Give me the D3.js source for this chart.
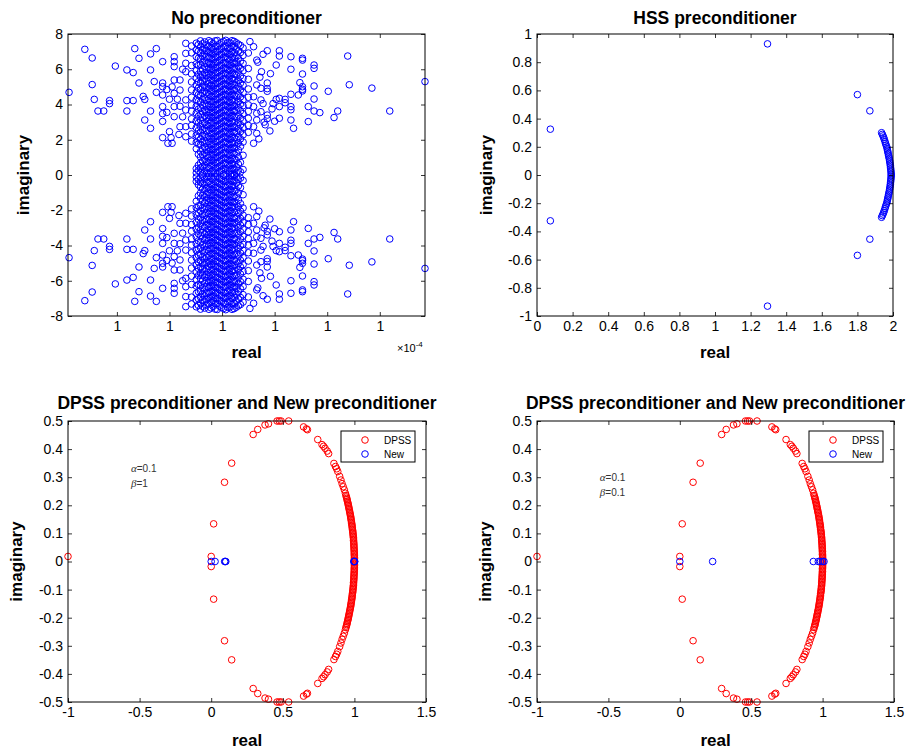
<!DOCTYPE html>
<meta charset="utf-8">
<head>
    <title>Eigenvalue distributions</title>
    <script type="text/javascript" src="https://cdn.jsdelivr.net/npm/d3@7"></script>
    <style type="text/css">
        body { margin: 0; background: #fff; }
        svg text { font-family: "Liberation Sans", Arial, Helvetica, sans-serif; }
    </style>
</head>
<body>
<div id="chart"></div>
<script>
    // ---------------- data (upper half only where spectrum is conjugate-symmetric) ----------------
    // No preconditioner: real part shown as tick offsets (every tick reads "1", x10^-4)
    var noPrecXTicks = [-2, -1, 0, 1, 2, 3];
    var noPrecXLabels = ["1", "1", "1", "1", "1", "1"];
    var noPrecYTicks = [-8, -6, -4, -2, 0, 2, 4, 6, 8];

    var noPrecOuter = [
        [-2.91,4.69],[-2.61,7.13],[-2.47,6.64],[-2.47,5.13],[-2.43,4.29],[-2.36,3.63],[-2.25,3.63],
        [-2.14,4.22],[-2.14,4.05],[-2.03,6.18],[-1.81,5.96],[-1.81,4.22],[-1.81,3.63],[-1.69,5.81],
        [-1.69,4.22],[-1.66,7.17],[-1.58,6.62],[-1.58,5.22],[-1.50,4.46],[-1.47,4.29],[-1.47,3.12],
        [-1.36,6.87],[-1.36,5.96],[-1.36,3.63],[-1.36,2.65],[-1.29,5.30],[-1.25,7.17],[-1.25,4.69],
        [-1.13,6.43],[-1.13,5.22],[-1.13,5.01],[-1.13,4.54],[-1.13,3.88],[-1.13,3.48],[-1.13,3.04],
        [-1.13,2.12],[-1.03,1.80],[-0.95,1.80],[-0.97,2.12],[-1.00,2.46],[-0.91,6.71],[-0.91,6.43],
        [-0.91,6.15],[-0.91,5.39],[-0.91,4.63],[-0.91,3.88],[-0.91,3.31],[-0.80,4.82],[-0.80,2.74],
        [-0.80,5.39],[-0.69,7.47],[-0.69,6.90],[-0.69,6.34],[-0.69,5.86],[-0.69,2.17],[-0.69,2.74],
        [-0.69,4.26],[-0.69,3.69],[-1.05,4.85],[-1.00,4.30],[-0.85,4.30],[-0.75,3.30],[-0.75,6.00],
        [-0.95,5.00],[-0.82,2.30],[-0.80,3.90],[-1.05,3.55],
        [3.86,5.30],[3.19,3.63],[2.85,4.93],[2.42,5.12],[2.39,6.75],[2.20,3.63],[2.13,3.26],[2.02,4.75],
        [1.86,3.54],[1.75,6.24],[1.75,6.05],[1.75,5.05],[1.75,4.31],[1.75,3.63],[1.64,3.88],[1.64,3.03],
        [1.53,6.62],[1.53,6.52],[1.53,5.73],[1.53,5.01],[1.53,4.86],[1.53,4.77],[1.48,5.24],[1.45,4.54],
        [1.36,2.65],[1.31,6.71],[1.31,6.00],[1.31,4.58],[1.31,3.88],[1.31,3.70],[1.31,3.12],[1.20,4.29],
        [1.20,4.10],[1.09,7.05],[1.09,6.75],[1.09,4.35],[1.09,3.88],[1.09,3.22],[1.03,6.24],[1.03,4.29],
        [0.91,2.50],[0.86,7.05],[0.86,5.22],[0.86,4.90],[0.86,4.75],[0.86,3.40],[0.86,3.20],[0.75,5.86],
        [0.74,4.26],[0.74,3.59],[0.74,4.92],[0.66,6.52],[0.66,5.11],[0.66,3.50],[0.66,3.12],[0.66,2.36],
        [0.60,7.28],[0.60,4.44],[0.60,3.88],[0.60,2.74],[0.60,1.80],[0.53,7.57],[0.68,6.40],[0.72,5.55],
        [0.78,4.05],[0.80,3.00],[0.95,3.75],[0.97,4.05],[0.92,5.75],[0.78,6.85],[0.70,2.05],[1.00,3.05],
        [0.82,2.85]
    ];

    // dense core, column by column
    var noPrecCoreU = [-0.58, -0.49, -0.41, -0.33, -0.25, -0.17, -0.09, -0.01, 0.07, 0.15, 0.23, 0.31, 0.40, 0.50,
                       -0.45, -0.37, -0.29, -0.21, -0.13, -0.05, 0.03, 0.11, 0.19, 0.27, 0.35];
    var noPrecCoreV = [
        [7.32,6.93,6.21,5.74,5.28,4.83,4.41,3.98,3.62,3.19,2.81,2.33,1.92],
        [7.48,7.09,6.71,6.30,5.92,5.49,5.12,4.70,4.28,3.91,3.52,3.08,2.69,2.27,1.86,1.49,0.36,0.12],
        [7.61,7.26,6.93,6.58,6.27,5.88,5.56,5.21,4.84,4.52,4.13,3.81,3.44,3.12,2.74,2.41,2.03,1.72,1.33,1.02,0.69,0.41,0.15],
        [7.55,7.18,6.87,6.49,6.16,5.79,5.47,5.08,4.76,4.39,4.06,3.68,3.36,2.98,2.66,2.29,1.96,1.58,1.27,0.88,0.56,0.24],
        [7.62,7.31,6.98,6.69,6.38,6.11,5.79,5.52,5.18,4.91,4.58,4.31,3.98,3.71,3.38,3.11,2.79,2.52,2.18,1.91,1.58,1.31,0.98,0.71,0.38,0.09],
        [7.46,7.13,6.86,6.54,6.24,5.96,5.63,5.36,5.04,4.76,4.44,4.16,3.84,3.56,3.24,2.96,2.64,2.36,2.04,1.76,1.44,1.16,0.84,0.56,0.24],
        [7.63,7.29,7.01,6.68,6.41,6.08,5.81,5.49,5.21,4.88,4.61,4.28,4.01,3.68,3.41,3.08,2.81,2.48,2.21,1.88,1.61,1.28,1.01,0.68,0.41,0.08],
        [7.52,7.17,6.84,6.56,6.22,5.94,5.66,5.33,5.06,4.73,4.46,4.13,3.86,3.53,3.26,2.93,2.66,2.33,2.06,1.73,1.46,1.13,0.86,0.53,0.26],
        [7.64,7.33,6.99,6.71,6.37,6.09,5.77,5.48,5.17,4.89,4.57,4.29,3.97,3.69,3.37,3.09,2.77,2.49,2.17,1.89,1.57,1.29,0.97,0.69,0.37,0.11],
        [7.49,7.16,6.83,6.52,6.23,5.92,5.61,5.32,5.02,4.72,4.42,4.12,3.82,3.52,3.22,2.92,2.62,2.32,2.02,1.72,1.42,1.12,0.82,0.52,0.22],
        [7.58,7.27,6.94,6.63,6.31,6.02,5.71,5.41,5.11,4.81,4.51,4.21,3.91,3.61,3.31,3.01,2.71,2.41,2.11,1.81,1.51,1.21,0.91,0.61,0.31,0.04],
        [7.42,7.03,6.62,6.19,5.83,5.39,5.02,4.61,4.18,3.82,3.41,2.99,2.62,2.19,1.81,1.42,1.01,0.62,0.24],
        [7.21,6.79,6.33,5.91,5.48,5.09,4.68,4.27,3.93,3.48,3.07,2.69,2.28,1.87,1.12,0.31],
        [6.92,6.04,5.43,4.88,4.41,3.98,3.61,3.22,2.81,2.42],
        [7.40,7.02,6.62,6.22,5.71,5.30,4.93,4.55,4.18,3.74,3.33,2.95,2.52,2.14,1.75,1.18,0.55,0.26],
        [7.45,7.09,6.74,6.40,6.02,5.68,5.33,4.99,4.64,4.29,3.95,3.60,3.27,2.91,2.57,2.21,1.86,1.49,1.15,0.80,0.47,0.05],
        [7.38,7.06,6.73,6.33,6.00,5.65,5.33,4.97,4.66,4.24,3.92,3.56,3.24,2.84,2.52,2.13,1.81,1.43,1.11,0.74,0.43,0.12],
        [7.54,7.22,6.91,6.61,6.30,6.00,5.69,5.38,5.09,4.77,4.47,4.17,3.86,3.56,3.26,2.95,2.65,2.35,2.05,1.74,1.44,1.14,0.84,0.54,0.18],
        [7.61,7.30,6.99,6.70,6.40,6.09,5.80,5.50,5.19,4.90,4.60,4.29,3.99,3.70,3.39,3.10,2.79,2.49,2.19,1.90,1.59,1.29,0.99,0.70,0.39,0.12],
        [7.44,7.12,6.82,6.51,6.20,5.90,5.60,5.30,5.00,4.70,4.40,4.10,3.80,3.50,3.20,2.90,2.60,2.30,2.00,1.70,1.40,1.10,0.80,0.50,0.20],
        [7.57,7.26,6.97,6.66,6.35,6.06,5.75,5.45,5.15,4.85,4.54,4.25,3.94,3.65,3.34,3.04,2.74,2.45,2.14,1.84,1.55,1.24,0.94,0.65,0.34,0.05],
        [7.51,7.20,6.90,6.59,6.28,5.98,5.68,5.38,5.08,4.78,4.48,4.18,3.88,3.58,3.28,2.98,2.68,2.38,2.08,1.78,1.48,1.18,0.88,0.58,0.28],
        [7.62,7.32,7.00,6.69,6.40,6.08,5.78,5.47,5.17,4.87,4.57,4.27,3.97,3.67,3.37,3.06,2.76,2.46,2.16,1.86,1.56,1.26,0.96,0.66,0.36,0.07],
        [7.50,7.15,6.80,6.42,6.05,5.66,5.24,4.88,4.44,4.03,3.66,3.24,2.83,2.44,2.02,1.63,1.24,0.83,0.45,0.12],
        [7.35,6.95,6.45,6.05,5.62,5.21,4.84,4.43,4.02,3.63,3.22,2.85,2.46,2.05,1.62,0.72,0.18]
    ];

    // HSS preconditioner
    var hssXTicks = [0, 0.2, 0.4, 0.6, 0.8, 1, 1.2, 1.4, 1.6, 1.8, 2];
    var hssYTicks = [-1, -0.8, -0.6, -0.4, -0.2, 0, 0.2, 0.4, 0.6, 0.8, 1];
    var hssPoints = [
        [0.075,0.325],[1.295,0.930],[1.800,0.570],[1.870,0.455],
        [1.936,0.300],[1.940,0.288],[1.944,0.277],[1.948,0.265],[1.951,0.252],[1.955,0.238],
        [1.958,0.225],[1.961,0.212],[1.965,0.200],[1.967,0.188],[1.969,0.176],[1.971,0.164],
        [1.973,0.152],[1.975,0.140],[1.977,0.128],[1.979,0.116],[1.981,0.104],[1.982,0.092],
        [1.984,0.080],[1.985,0.068],[1.986,0.056],[1.987,0.044],[1.988,0.032],[1.989,0.020],
        [1.990,0.008],[1.990,0]
    ];

    // DPSS preconditioner (same spectrum in both lower panels)
    var dpssXTicks = [-1, -0.5, 0, 0.5, 1, 1.5];
    var dpssYTicks = [-0.5, -0.4, -0.3, -0.2, -0.1, 0, 0.1, 0.2, 0.3, 0.4, 0.5];
    var dpssSingle = [[-1, 0.018]];
    var dpssPoints = [
        [0.000,0.018],[0.017,0.134],[0.093,0.282],[0.143,0.350],[0.293,0.452],[0.325,0.470],
        [0.376,0.486],[0.400,0.490],[0.460,0.500],[0.475,0.500],[0.488,0.500],[0.541,0.500],
        [0.645,0.479],[0.665,0.472],[0.672,0.469],[0.744,0.434],[0.774,0.416],[0.785,0.410],
        [0.795,0.403],[0.810,0.393],[0.820,0.384],[0.857,0.349],[0.868,0.338],[0.876,0.330],
        [0.884,0.320],[0.897,0.303],[0.906,0.290],[0.914,0.277],[0.922,0.266],[0.930,0.255],
        [0.937,0.243],[0.941,0.235],[0.944,0.230],[0.947,0.225],[0.949,0.220],[0.951,0.215],
        [0.954,0.210],[0.956,0.205],[0.958,0.200],[0.960,0.195],[0.962,0.190],[0.964,0.185],
        [0.966,0.180],[0.968,0.175],[0.970,0.170],[0.972,0.165],[0.974,0.160],[0.975,0.155],
        [0.977,0.150],[0.978,0.145],[0.980,0.140],[0.981,0.135],[0.983,0.130],[0.984,0.125],
        [0.985,0.120],[0.986,0.115],[0.988,0.110],[0.989,0.105],[0.990,0.100],[0.991,0.095],
        [0.992,0.090],[0.993,0.085],[0.994,0.080],[0.994,0.075],[0.995,0.070],[0.996,0.065],
        [0.996,0.060],[0.997,0.055],[0.997,0.050],[0.998,0.045],[0.998,0.040],[0.999,0.035],
        [0.999,0.030],[0.999,0.025],[1.000,0.020],[1.000,0.015],[1.000,0.010],[1.000,0.005],[1.000,0]
    ];
    var newPointsA = [[0.000,0],[0.027,0],[0.094,0],[0.098,0],[0.102,0],[0.996,0],[0.998,0],[1.000,0],[1.002,0]];
    var newPointsB = [[0.000,0],[0.230,0],[0.935,0],[0.970,0],[0.985,0],[1.000,0],[1.010,0]];

    // ---------------- helpers ----------------
    function conj(pts) {
        return pts.concat(pts.filter(function(d){ return d[1] !== 0; })
                             .map(function(d){ return [d[0], -d[1]]; }));
    }
    function numFmt(d) { return String(Math.round(d * 10) / 10); }

    var noPrecPoints = noPrecOuter.slice();
    noPrecCoreU.forEach(function(u, i){
        noPrecCoreV[i].forEach(function(v){ noPrecPoints.push([u, v]); });
    });

    var width = 911, height = 749;
    var svg = d3.select("#chart").append("svg")
        .attr("width", width)
        .attr("height", height);

    function drawPanel(p) {
        var g = svg.append("g");
        var x = d3.scaleLinear().domain(p.xDomain).range([p.left, p.right]);
        var y = d3.scaleLinear().domain(p.yDomain).range([p.bottom, p.top]);

        p.series.forEach(function(s){
            g.append("g").selectAll("circle")
                .data(s.points)
                .enter()
                .append("circle")
                .attr("cx", function(d){ return x(d[0]); })
                .attr("cy", function(d){ return y(d[1]); })
                .attr("r", 3.3)
                .attr("fill", "none")
                .attr("stroke", s.color)
                .attr("stroke-width", 1);
        });

        // ticks on all four sides, pointing inward
        var bottom = d3.axisBottom(x).tickValues(p.xTicks).tickSize(-4).tickSizeOuter(0).tickPadding(5)
            .tickFormat(function(d, i){ return p.xLabels ? p.xLabels[i] : numFmt(d); });
        var left = d3.axisLeft(y).tickValues(p.yTicks).tickSize(-4).tickSizeOuter(0).tickPadding(5)
            .tickFormat(numFmt);
        var top = d3.axisTop(x).tickValues(p.xTicks).tickSize(-4).tickSizeOuter(0).tickFormat("");
        var right = d3.axisRight(y).tickValues(p.yTicks).tickSize(-4).tickSizeOuter(0).tickFormat("");

        [[bottom, "translate(0," + p.bottom + ")"], [left, "translate(" + p.left + ",0)"],
         [top, "translate(0," + p.top + ")"], [right, "translate(" + p.right + ",0)"]].forEach(function(a){
            var ax = g.append("g").attr("transform", a[1]).call(a[0]);
            ax.select(".domain").remove();
            ax.selectAll("line").attr("stroke", "#000").attr("stroke-width", 0.8);
            ax.selectAll("text").attr("fill", "#000")
                .style("font-family", '"Liberation Sans", Arial, sans-serif')
                .style("font-size", "14px");
        });

        g.append("rect")
            .attr("x", p.left).attr("y", p.top)
            .attr("width", p.right - p.left).attr("height", p.bottom - p.top)
            .attr("fill", "none").attr("stroke", "#000").attr("stroke-width", 1);

        var cx = (p.left + p.right) / 2;
        g.append("text").attr("x", cx).attr("y", p.titleY)
            .attr("text-anchor", "middle").style("font-weight", "bold").style("font-size", "17.5px")
            .text(p.title);
        g.append("text").attr("x", cx).attr("y", p.xLabelY)
            .attr("text-anchor", "middle").style("font-weight", "bold").style("font-size", "17px")
            .text("real");
        g.append("text")
            .attr("transform", "translate(" + p.yLabelX + "," + ((p.top + p.bottom) / 2) + ") rotate(-90)")
            .attr("dy", "0.32em")
            .attr("text-anchor", "middle").style("font-weight", "bold").style("font-size", "17px")
            .text("imaginary");

        if (p.legend) {
            var lx = p.right - 85, ly = p.top + 10;
            g.append("rect").attr("x", lx).attr("y", ly).attr("width", 74).attr("height", 31)
                .attr("fill", "#fff").attr("stroke", "#000").attr("stroke-width", 1);
            p.series.filter(function(s){ return s.name; }).forEach(function(s, i){
                g.append("circle").attr("cx", lx + 24).attr("cy", ly + 9 + i * 14).attr("r", 3.3)
                    .attr("fill", "none").attr("stroke", s.color).attr("stroke-width", 1);
                g.append("text").attr("x", lx + 43).attr("y", ly + 13 + i * 14)
                    .style("font-size", "10px").attr("fill", "#000").text(s.name);
            });
        }

        if (p.note) {
            var nt = g.append("text").attr("x", x(p.note.x)).attr("y", y(p.note.y))
                .style("font-size", "10px").attr("fill", "#333");
            p.note.lines.forEach(function(l, i){
                var line = nt.append("tspan").attr("x", x(p.note.x)).attr("dy", i === 0 ? 0 : 15);
                line.append("tspan").style("font-family", '"Liberation Serif", serif')
                    .style("font-style", "italic").style("font-size", "11px").text(l[0]);
                line.append("tspan").text(l[1]);
            });
        }
        return g;
    }

    var p1 = drawPanel({
        left: 68, right: 425, top: 34, bottom: 316,
        xDomain: [-2.93, 3.86], yDomain: [-8, 8],
        xTicks: noPrecXTicks, xLabels: noPrecXLabels, yTicks: noPrecYTicks,
        title: "No preconditioner", titleY: 24, xLabelY: 358, yLabelX: 24,
        series: [{points: conj(noPrecPoints), color: "#0000ff"}]
    });
    var exp = p1.append("text").attr("x", 397).attr("y", 352).style("font-size", "11px").attr("fill", "#000");
    exp.append("tspan").text("\u00d710");
    exp.append("tspan").attr("dy", -5).style("font-size", "8px").text("-4");

    drawPanel({
        left: 537, right: 893, top: 34, bottom: 316,
        xDomain: [0, 2], yDomain: [-1, 1],
        xTicks: hssXTicks, yTicks: hssYTicks,
        title: "HSS preconditioner", titleY: 24, xLabelY: 358, yLabelX: 487,
        series: [{points: conj(hssPoints), color: "#0000ff"}]
    });

    drawPanel({
        left: 68, right: 426, top: 421, bottom: 702,
        xDomain: [-1, 1.5], yDomain: [-0.5, 0.5],
        xTicks: dpssXTicks, yTicks: dpssYTicks,
        title: "DPSS preconditioner and New preconditioner", titleY: 409, xLabelY: 746, yLabelX: 17,
        legend: true,
        note: {x: -0.56, y: 0.32, lines: [["\u03b1", "=0.1"], ["\u03b2", "=1"]]},
        series: [{name: "DPSS", points: dpssSingle.concat(conj(dpssPoints)), color: "#ff0000"},
                 {name: "New", points: newPointsA, color: "#0000ff"}]
    });

    drawPanel({
        left: 537, right: 894, top: 421, bottom: 702,
        xDomain: [-1, 1.5], yDomain: [-0.5, 0.5],
        xTicks: dpssXTicks, yTicks: dpssYTicks,
        title: "DPSS preconditioner and New preconditioner", titleY: 409, xLabelY: 746, yLabelX: 486,
        legend: true,
        note: {x: -0.56, y: 0.285, lines: [["\u03b1", "=0.1"], ["\u03b2", "=0.1"]]},
        series: [{name: "DPSS", points: dpssSingle.concat(conj(dpssPoints)), color: "#ff0000"},
                 {name: "New", points: newPointsB, color: "#0000ff"}]
    });
</script>
</body>
</html>
